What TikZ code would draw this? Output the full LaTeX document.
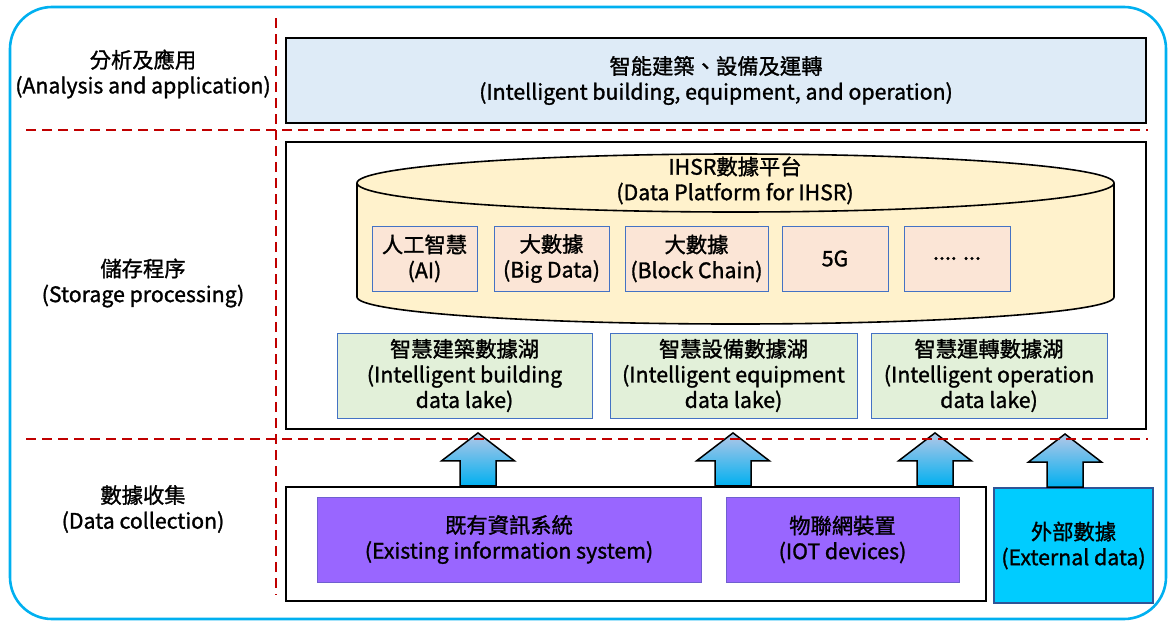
\documentclass[tikz,border=0pt]{standalone}
\usepackage{fontspec}
\setmainfont{Noto Sans CJK TC}[FakeBold=1.3]
\definecolor{framecyan}{HTML}{00B0F0}
\definecolor{divred}{HTML}{C00000}
\definecolor{appfill}{HTML}{DEEBF7}
\definecolor{platfill}{HTML}{FFF2CC}
\definecolor{techfill}{HTML}{FBE5D6}
\definecolor{lakefill}{HTML}{E2F0D9}
\definecolor{thinblue}{HTML}{4472C4}
\definecolor{srcfill}{HTML}{9966FF}
\definecolor{srcedge}{HTML}{6F5FD0}
\definecolor{extfill}{HTML}{00CCFF}
\definecolor{extedge}{HTML}{2F5597}
\definecolor{arrowtop}{HTML}{B4C7E7}
\definecolor{arrowbot}{HTML}{00B0F0}
% upward block arrow whose shaft starts at the given coordinate
\newcommand{\upblock}[1]{\path[flowarrow] (#1) ++(-18,0) -- ++(0,-25) -- ++(-18.5,0)
  -- ++(36.5,-28) -- ++(36.5,28) -- ++(-18.5,0) -- ++(0,25) -- cycle;}
\begin{document}
\begin{tikzpicture}[x=1pt,y=-1pt,
  font=\fontsize{21.3}{25.5}\selectfont,
  every node/.style={inner sep=0pt, align=center, text=black},
  bigbox/.style={draw=black, line width=2.2pt},
  techbox/.style={draw=thinblue, line width=0.9pt, fill=techfill, minimum height=65pt},
  lakebox/.style={draw=thinblue, line width=0.9pt, fill=lakefill, minimum height=85pt},
  srcbox/.style={draw=srcedge, line width=1pt, fill=srcfill, minimum height=85pt},
  divider/.style={draw=divred, line width=2.4pt, dash pattern=on 10pt off 6pt},
  flowarrow/.style={draw=black, line width=1.5pt, line join=miter, top color=arrowtop, bottom color=arrowbot},
  rowlabel/.style={}]
\useasboundingbox (0,0) rectangle (1169,621);

% outer frame
\draw[framecyan, line width=2.6pt, rounded corners=42pt] (10,7) rectangle (1166,619);

% row labels
\node[rowlabel] (lblapp) at (143,74) {分析及應用\\(Analysis and application)};
\node[rowlabel] (lblsto) at (143,283) {儲存程序\\(Storage processing)};
\node[rowlabel] (lblcol) at (143,509) {數據收集\\(Data collection)};

% analysis and application
\node[bigbox, fill=appfill, minimum width=860pt, minimum height=85pt] (app) at (716,80.5)
  {智能建築、設備及運轉\\(Intelligent building, equipment, and operation)};

% storage processing
\node[bigbox, fill=white, minimum width=860pt, minimum height=287pt] (store) at (716,285.5) {};

% platform cylinder
\path[draw=black, line width=1.6pt, fill=platfill]
  (357,183) -- (357,297) arc[start angle=180, end angle=360, x radius=378.5, y radius=-27]
  -- (1114,183) arc[start angle=0, end angle=180, x radius=378.5, y radius=-29] -- cycle;
\draw[black, line width=1.6pt] (357,183) arc[start angle=180, end angle=360, x radius=378.5, y radius=-29];
\node (plat) at (735,180.5) {IHSR數據平台\\(Data Platform for IHSR)};

\node[techbox, minimum width=105pt] (ai) at (424.5,258.5) {人工智慧\\(AI)};
\node[techbox, minimum width=115pt] (bigdata) at (551.5,258.5) {大數據\\(Big Data)};
\node[techbox, minimum width=143pt] (chain) at (696.5,258.5) {大數據\\(Block Chain)};
\node[techbox, minimum width=106pt] (fiveg) at (835,258.5) {5G};
\node[techbox, minimum width=106pt] (more) at (957,258.5) {.... ...};

\node[lakebox, minimum width=255pt] (lakeb) at (464.5,375.5)
  {智慧建築數據湖\\(Intelligent building\\data lake)};
\node[lakebox, minimum width=247pt] (lakee) at (733.5,375.5)
  {智慧設備數據湖\\(Intelligent equipment\\data lake)};
\node[lakebox, minimum width=236pt] (lakeo) at (989,375.5)
  {智慧運轉數據湖\\(Intelligent operation\\data lake)};

% data collection
\node[bigbox, fill=white, minimum width=700pt, minimum height=114pt] (collect) at (636,544) {};
\node[srcbox, minimum width=384pt] (legacy) at (509,539.5)
  {既有資訊系統\\(Existing information system)};
\node[srcbox, minimum width=233pt] (iot) at (842.5,539.5)
  {物聯網裝置\\(IOT devices)};
\node[draw=extedge, line width=2pt, fill=extfill, minimum width=159pt, minimum height=115pt] (ext)
  at (1073.5,545.5) {外部數據\\(External data)};

% flows into the storage layer
\coordinate (f1) at (collect.north -| 478,0);
\coordinate (f2) at (collect.north -| 733,0);
\coordinate (f3) at (collect.north -| 935,0);
\coordinate (f4) at (ext.north -| 1065,0);
\upblock{f1}
\upblock{f2}
\upblock{f3}
\upblock{f4}

% layer dividers
\draw[divider] (276,18) -- (276,595);
\draw[divider] (26,130) -- (1148,130);
\draw[divider] (26,439) -- (1148,439);
\end{tikzpicture}
\end{document}
